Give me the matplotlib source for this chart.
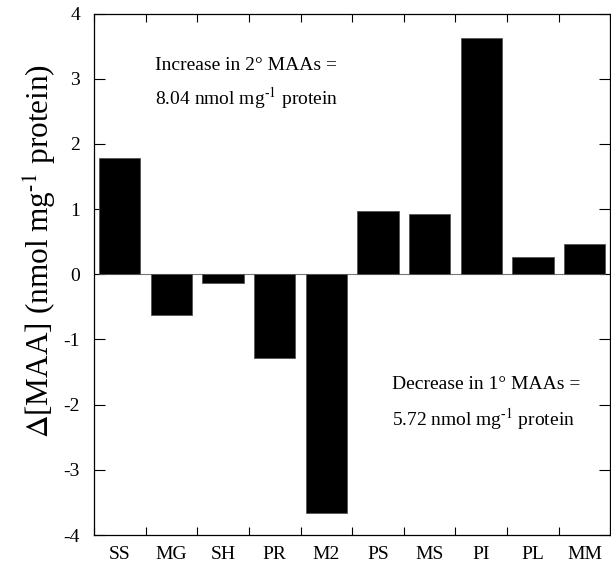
import matplotlib.pyplot as plt
import numpy as np

# MAA change per compound (nmol mg-1 protein)
compounds = ["SS", "MG", "SH", "PR", "M2", "PS", "MS", "PI", "PL", "MM"]
delta_maa = [1.79, -0.63, -0.13, -1.29, -3.67, 0.97, 0.93, 3.62, 0.26, 0.47]
y_ticks = [-4, -3, -2, -1, 0, 1, 2, 3, 4]

plt.rcParams['font.family'] = ['Liberation Serif', 'DejaVu Serif']
plt.rcParams['mathtext.fontset'] = 'stix'

fig = plt.figure(figsize=(6.11, 5.64), dpi=100)
ax = fig.add_axes([0.1538, 0.0514, 0.8452, 0.9246])

x = np.arange(len(compounds))
ax.bar(x, delta_maa, width=0.8, color="black", edgecolor="#555555", linewidth=0.6, zorder=2)
ax.axhline(0, color="#777777", linewidth=0.8, zorder=1)

ax.set_xlim(-0.5, len(compounds) - 0.5)
ax.set_ylim(-4, 4)
ax.set_yticks(y_ticks)
ax.set_yticklabels([str(t) for t in y_ticks])
ax.set_xticks(x)
ax.set_xticklabels(compounds)
ax.set_xticks(np.arange(len(compounds) + 1) - 0.5, minor=True)

ax.tick_params(axis="x", which="major", length=0, pad=8, labelsize=14)
ax.tick_params(axis="x", which="minor", direction="in", length=6, top=True, width=0.8)
ax.tick_params(axis="y", which="major", direction="in", length=8, right=True, width=0.8,
               labelsize=14, pad=10)
for s in ax.spines.values():
    s.set_linewidth(0.9)

# superscript uses a plain hyphen rather than a minus sign
sup = "$^{\\mathregular{\u2010}1}$"
ax.set_ylabel("$\\Delta$[MAA] (nmol mg" + sup + " protein)", fontsize=22.5)
ax.yaxis.set_label_coords(-0.068, 0.545)

ax.text(0.118, 0.901, "Increase in 2° MAAs =", transform=ax.transAxes, fontsize=14, va="center")
ax.text(0.118, 0.838, "8.04 nmol mg" + sup + " protein", transform=ax.transAxes,
        fontsize=14, va="center")
ax.text(0.577, 0.288, "Decrease in 1° MAAs =", transform=ax.transAxes, fontsize=14, va="center")
ax.text(0.577, 0.222, "5.72 nmol mg" + sup + " protein", transform=ax.transAxes,
        fontsize=14, va="center")

fig.savefig("out.png", dpi=100)
